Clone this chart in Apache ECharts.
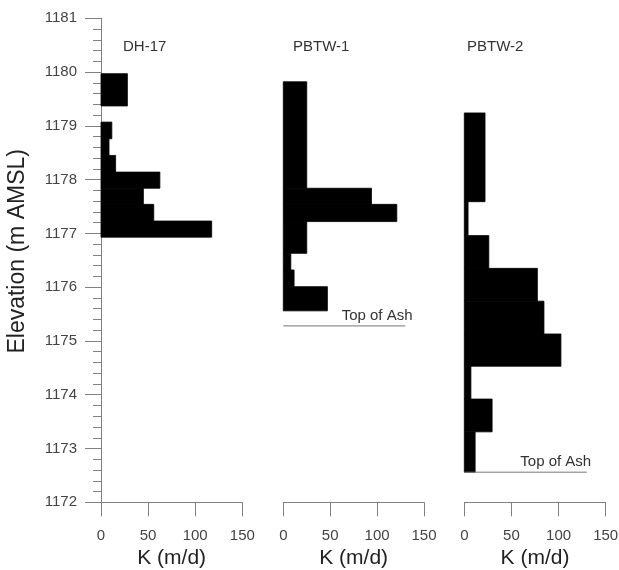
<!DOCTYPE html>
<html>
<head>
<meta charset="utf-8">
<script src="https://cdn.jsdelivr.net/npm/echarts@6/dist/echarts.min.js"></script>
<style>
html,body{margin:0;padding:0;background:#fff;}
#chart{width:619px;height:570px;}
</style>
</head>
<body>
<div id="chart"></div>
<script>
// ---- data ----
const panelNames = ['DH-17', 'PBTW-1', 'PBTW-2'];
const kTicks = [0, 50, 100, 150];
const elevMin = 1172, elevMax = 1181;

const dh17Top    = [1179.97, 1179.07, 1178.76, 1178.45, 1178.14, 1177.84, 1177.54, 1177.23];
const dh17Bottom = [1179.37, 1178.76, 1178.45, 1178.14, 1177.84, 1177.54, 1177.23, 1176.93];
const dh17K      = [28, 11.5, 8.5, 15.5, 62.5, 45, 56, 117.5];

const pbtw1Top    = [1179.82, 1177.84, 1177.54, 1177.22, 1176.63, 1176.32, 1176.01];
const pbtw1Bottom = [1177.84, 1177.54, 1177.22, 1176.63, 1176.32, 1176.01, 1175.56];
const pbtw1K      = [25, 94, 121, 25, 8, 11.5, 47];

const pbtw2Top    = [1179.24, 1177.59, 1176.96, 1176.35, 1175.74, 1175.13, 1174.53, 1173.92, 1173.31];
const pbtw2Bottom = [1177.59, 1176.96, 1176.35, 1175.74, 1175.13, 1174.53, 1173.92, 1173.31, 1172.56];
const pbtw2K      = [22, 4, 26, 77.5, 84.5, 102.5, 7, 29.5, 11.5];

// Top of Ash: panel index, elevation, line end K, label K
const ashPanels = [1, 2];
const ashElev = [1175.28, 1172.56];
const ashEndK = [130, 130];
const ashLabelK = [100, 97];

// ---- build ----
const FONT = 'Liberation Sans, Arial, sans-serif';
const gridLefts = [101, 283.3, 464.3];
const gridWidths = [141.3, 140.7, 141.4];
const titleLefts = [123, 293, 467];
const AXIS_COLOR = '#808080';

function zipBars(k, top, bottom) {
  return k.map((v, i) => [v, top[i], bottom[i]]);
}
const barSets = [
  zipBars(dh17K, dh17Top, dh17Bottom),
  zipBars(pbtw1K, pbtw1Top, pbtw1Bottom),
  zipBars(pbtw2K, pbtw2Top, pbtw2Bottom)
];

const grids = gridLefts.map((l, i) => ({
  left: l, width: gridWidths[i], top: 18.3, bottom: 67.7,
  containLabel: false, outerBoundsMode: 'none'
}));

const xAxes = gridLefts.map((l, i) => ({
  type: 'value', gridIndex: i, min: kTicks[0], max: kTicks[kTicks.length - 1],
  interval: kTicks[1] - kTicks[0],
  axisLine: { show: true, onZero: false, lineStyle: { color: AXIS_COLOR, width: 1 } },
  axisTick: { show: true, inside: false, length: 14, lineStyle: { color: AXIS_COLOR } },
  axisLabel: { fontSize: 15, color: '#444', margin: 26, fontFamily: FONT,
               formatter: v => String(v) },
  splitLine: { show: false },
  name: 'K (m/d)', nameLocation: 'middle', nameGap: 45,
  nameTextStyle: { fontSize: 21, color: '#222', fontFamily: FONT }
}));

const yAxes = gridLefts.map((l, i) => ({
  type: 'value', gridIndex: i, min: elevMin, max: elevMax, interval: 1,
  show: i === 0,
  axisLine: { show: true, onZero: false, lineStyle: { color: AXIS_COLOR, width: 1 } },
  axisTick: { show: true, inside: false, length: 16, lineStyle: { color: AXIS_COLOR } },
  minorTick: { show: true, splitNumber: 5, length: 8, lineStyle: { color: AXIS_COLOR } },
  axisLabel: { fontSize: 15, color: '#444', margin: 24, fontFamily: FONT,
               formatter: v => String(v) },
  splitLine: { show: false },
  minorSplitLine: { show: false },
  name: i === 0 ? 'Elevation (m AMSL)' : '',
  nameLocation: 'middle', nameRotate: 90, nameGap: 72,
  nameTextStyle: { fontSize: 23, color: '#222', fontFamily: FONT, padding: [0, 0, 0, 18] }
}));

const series = barSets.map((d, i) => ({
  type: 'custom', xAxisIndex: i, yAxisIndex: i, data: d,
  encode: { x: 0, y: [1, 2] },
  renderItem: function (params, api) {
    const p0 = api.coord([0, api.value(1)]);
    const p1 = api.coord([api.value(0), api.value(2)]);
    return {
      type: 'rect',
      shape: { x: p0[0], y: p0[1], width: p1[0] - p0[0], height: p1[1] - p0[1] },
      style: { fill: '#000', stroke: '#000', lineWidth: 0.8 }
    };
  }
}));

ashPanels.forEach((pi, j) => {
  series.push({
    type: 'custom', xAxisIndex: pi, yAxisIndex: pi,
    data: [[ashEndK[j], ashElev[j], ashLabelK[j]]],
    encode: { x: 0, y: 1 },
    z: 5,
    renderItem: function (params, api) {
      const a = api.coord([0, api.value(1)]);
      const b = api.coord([api.value(0), api.value(1)]);
      const t = api.coord([api.value(2), api.value(1)]);
      return {
        type: 'group',
        children: [
          { type: 'line', shape: { x1: a[0], y1: a[1], x2: b[0], y2: b[1] },
            style: { stroke: '#777', lineWidth: 1 } },
          { type: 'text', x: t[0], y: t[1] - 10,
            style: { text: 'Top of Ash', fill: '#333', font: '15px ' + FONT,
                     align: 'center', verticalAlign: 'middle' } }
        ]
      };
    }
  });
});

const titles = panelNames.map((n, i) => ({
  text: n, left: titleLefts[i], top: 39, padding: 0,
  textStyle: { fontSize: 15, fontWeight: 'normal', color: '#333', fontFamily: FONT }
}));

const chart = echarts.init(document.getElementById('chart'), null, { renderer: 'canvas' });
chart.setOption({
  animation: false,
  backgroundColor: '#fff',
  title: titles,
  grid: grids,
  xAxis: xAxes,
  yAxis: yAxes,
  series: series
});
</script>
</body>
</html>
